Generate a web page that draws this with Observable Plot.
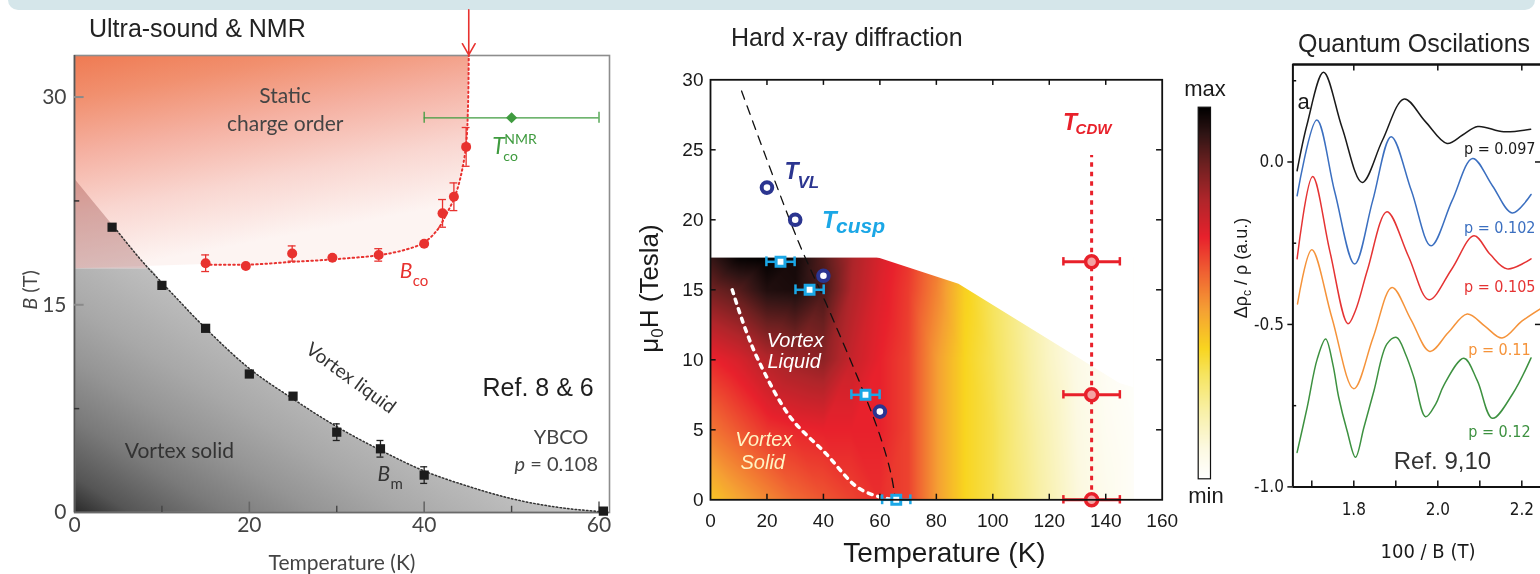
<!DOCTYPE html>
<html><head><meta charset="utf-8">
<script src="https://cdn.jsdelivr.net/npm/d3@7"></script>
<script src="https://cdn.jsdelivr.net/npm/@observablehq/plot@0.6"></script>
<style>
html,body{margin:0;padding:0;background:#fff;}
#root{position:relative;width:1540px;height:574px;overflow:hidden;background:#fff;}
#root > svg, #root > div {position:absolute;}
</style></head><body><div id="root"></div>
<script>
const F_ARIAL = '"Liberation Sans", Arial, Helvetica, sans-serif';
const F_P1 = 'Lato, "Open Sans", "Liberation Sans", sans-serif';
const F_NARROW = '"Liberation Sans Narrow", "Arial Narrow", "DejaVu Sans Condensed", Roboto, sans-serif';

// ================= Panel 1 data (Ultra-sound & NMR) =================
const bmT   = [4.3, 10, 15, 20, 25, 30, 35, 40, 60.5];
const bmB   = [20.6, 16.4, 13.3, 10.0, 8.4, 5.8, 4.6, 2.7, 0.1];
const bmErr = [0, 0, 0, 0, 0, 0.6, 0.6, 0.6, 0];
const bmLineT = [0, 4.3, 8.5, 10, 15, 20, 25, 30, 35, 40, 45, 50, 55, 60.5];
const bmLineB = [24.1, 20.8, 17.6, 16.6, 13.3, 10.4, 8.2, 6.2, 4.5, 3.0, 1.9, 1.0, 0.4, 0.05];
const grayTop = 17.6;
const bcoT   = [15, 19.6, 24.9, 29.5, 34.8, 40, 42.1, 43.4, 44.8];
const bcoB   = [18.0, 17.8, 18.7, 18.4, 18.6, 19.4, 21.6, 22.8, 26.4];
const bcoErr = [0.6, 0, 0.55, 0, 0.45, 0, 1.0, 1.0, 1.4];
const bcoLineT = [15, 20, 25, 30, 35, 38, 40, 41.5, 42.5, 43.5, 44.3, 44.8, 45.0, 45.1];
const bcoLineB = [17.9, 17.9, 18.1, 18.3, 18.6, 19.0, 19.5, 20.4, 21.5, 22.8, 24.6, 26.6, 29.0, 33.0];
const nmrT = 50, nmrB = 28.5, nmrErr = 10;
const arrowT = 45.1;
const p1XTicks = [0, 20, 40, 60];
const p1YTicks = [0, 15, 30];
const p1XMajor = [20, 40, 60], p1XMinor = [10, 30, 50];
const p1YMajor = [15, 30], p1YMinor = [7.5, 22.5];

// ================= Panel 2 data (Hard x-ray diffraction) =================
const hmT = [0, 10, 20, 30, 40, 50, 60, 70, 80, 90, 100, 110, 120, 130, 140, 150];
const hmB = [0, 5, 10, 15, 17.3];
const hmRowB0  = [0.38, 0.44, 0.49, 0.54, 0.57, 0.60, 0.63, 0.60, 0.46, 0.35, 0.30, 0.23, 0.16, 0.09, 0.05, 0.02];
const hmRowB5  = [0.52, 0.57, 0.62, 0.64, 0.65, 0.65, 0.65, 0.60, 0.46, 0.35, 0.30, 0.22, 0.15, 0.08, 0.04, 0.02];
const hmRowB10 = [0.64, 0.68, 0.74, 0.78, 0.80, 0.71, 0.65, 0.60, 0.46, 0.35, 0.29, 0.21, 0.13, 0.07, 0.03, 0.01];
const hmRowB15 = [0.84, 0.88, 0.95, 0.96, 0.90, 0.75, 0.67, 0.61, 0.50, 0.36, 0.28, 0.20, 0.12, 0.06, 0.03, 0.01];
const hmRowB17 = [0.92, 0.99, 1.00, 0.97, 0.88, 0.76, 0.68, 0.62, 0.52, 0.38, 0.28, 0.20, 0.12, 0.06, 0.03, 0.01];
const hmEdgeT = [0, 59, 88, 145, 150];
const hmEdgeB = [17.3, 17.3, 15.4, 8.3, 8.0];
const cmapT = [0, 0.08, 0.18, 0.28, 0.35, 0.45, 0.55, 0.65, 0.75, 0.85, 0.93, 1];
const cmapC = ["#ffffff","#fcf9e2","#f8f0a8","#f6e460","#f8d520","#f5a233","#f06432","#e8212c","#b0252a","#6b2020","#2e1414","#000000"];
const vlT = [20, 30, 40, 60];
const vlB = [22.3, 20.0, 16.0, 6.3];
const cuspT = [24.8, 35.1, 54.9, 65.8];
const cuspB = [17.0, 15.0, 7.5, 0];
const cuspErr = [5, 5, 5, 5];
const cdwT = [135, 135, 135];
const cdwB = [17.0, 7.5, 0];
const cdwErr = [10, 10, 10];
const cdwLineTop = 24.6;
const vlFitT = [11, 31, 41, 53, 60, 64, 65.5];
const vlFitB = [29.2, 18.5, 14.0, 8.3, 4.6, 1.8, 0];
const vsT = [7.7, 12, 17, 28.3, 40.9, 52, 60, 65.8];
const vsB = [15.0, 12.4, 9.95, 5.9, 3.3, 0.9, 0.2, 0];
const p2XTicks = [0, 20, 40, 60, 80, 100, 120, 140, 160];
const p2YTicks = [0, 5, 10, 15, 20, 25, 30];

// ================= Panel 3 data (Quantum Oscillations) =================
const qo097X = [1.665, 1.689, 1.728, 1.772, 1.820, 1.868, 1.920, 1.970, 2.022, 2.059, 2.095, 2.157, 2.221];
const qo097Y = [-0.027, 0.117, 0.276, 0.106, -0.063, 0.066, 0.194, 0.125, 0.057, 0.083, 0.109, 0.093, 0.101];
const qo102X = [1.665, 1.712, 1.755, 1.802, 1.845, 1.889, 1.937, 1.984, 2.034, 2.083, 2.130, 2.177, 2.222];
const qo102Y = [-0.104, 0.129, -0.094, -0.314, -0.119, 0.078, -0.088, -0.258, -0.119, 0.011, -0.073, -0.157, -0.100];
const qo105X = [1.665, 1.702, 1.743, 1.786, 1.804, 1.833, 1.879, 1.930, 1.979, 2.033, 2.086, 2.125, 2.165, 2.222];
const qo105Y = [-0.298, -0.045, -0.275, -0.498, -0.457, -0.330, -0.153, -0.290, -0.424, -0.330, -0.227, -0.285, -0.329, -0.298];
const qo110X = [1.666, 1.700, 1.748, 1.800, 1.846, 1.891, 1.936, 1.981, 2.025, 2.070, 2.112, 2.153, 2.200, 2.244];
const qo110Y = [-0.437, -0.270, -0.480, -0.698, -0.540, -0.386, -0.485, -0.583, -0.525, -0.468, -0.505, -0.542, -0.490, -0.452];
const qo120X = [1.665, 1.689, 1.713, 1.733, 1.750, 1.764, 1.784, 1.804, 1.824, 1.848, 1.879, 1.902, 1.923, 1.943, 1.971, 1.995, 2.014, 2.062, 2.094, 2.130, 2.178, 2.222];
const qo120Y = [-0.894, -0.755, -0.606, -0.545, -0.622, -0.724, -0.827, -0.909, -0.817, -0.704, -0.560, -0.540, -0.591, -0.663, -0.784, -0.745, -0.688, -0.604, -0.673, -0.789, -0.714, -0.603];
const qoNames = ["p = 0.097", "p = 0.102", "p = 0.105", "p = 0.11", "p = 0.12"];
const qoLabelX = [2.2326, 2.2326, 2.2326, 2.221, 2.221];
const qoLabelY = [0.026, -0.220, -0.399, -0.593, -0.845];
const qoColors = ["#1a1a1a", "#3b6fc0", "#e53333", "#f5933a", "#3d9140"];
const qoXTicks = [1.8, 2.0, 2.2], qoXMinor = [1.7, 1.9, 2.1];
const qoYTicks = [0, -0.5, -1.0], qoYMinor = [0.25, -0.25, -0.75];
const qoXDomain = [1.655, 2.2445], qoYDomain = [-1.0, 0.3];

// ================= helpers =================
const root = document.getElementById("root");
const bl = fs => -0.32 * fs;   // shift so that y is the baseline
const RED = "#e8322f", RED2 = "#e8202a", GREEN = "#3f9b3f", BLUE = "#2b3590", CYAN = "#1ba7e6";
function put(el, left, top) { el.style.left = left + "px"; el.style.top = top + "px"; root.appendChild(el); return el; }

// banner
const banner = document.createElement("div");
Object.assign(banner.style, {width: "1527px", height: "10px", background: "#d5e6ea", borderRadius: "0 0 10px 10px"});
put(banner, 8, 0);

// ================= Panel 1 =================
const bm = bmT.map((T, i) => ({T, B: bmB[i], e: bmErr[i]}));
const bmLine = bmLineT.map((T, i) => ({T, B: bmLineB[i]}));
const grayPts = bmLine.map(d => ({T: d.T, B: Math.min(d.B, grayTop)}));
const triPts = bmLine.filter(d => d.T <= 8.5);
const bco = bcoT.map((T, i) => ({T, B: bcoB[i], e: bcoErr[i]}));
const bcoLine = bcoLineT.map((T, i) => ({T, B: bcoLineB[i]}));
const pinkPts = [{T: 0, B: grayTop}].concat(bcoLine);
const capsOf = arr => arr.filter(d => d.e > 0).flatMap(d => [{T: d.T, B: d.B - d.e}, {T: d.T, B: d.B + d.e}]);

const p1 = Plot.plot({
  width: 620, height: 574, marginLeft: 74, marginRight: 11, marginTop: 55, marginBottom: 62,
  x: {domain: [0, 61.2]}, y: {domain: [0, 33]},
  style: {background: "transparent", overflow: "visible", fontFamily: F_P1, fontSize: "21px", color: "#444"},
  marks: [
    Plot.areaY(grayPts, {x: "T", y: "B", fill: "url(#p1gray)", curve: "monotone-x"}),
    Plot.areaY(triPts, {x: "T", y1: grayTop, y2: "B", fill: "#dcc4c4", curve: "monotone-x"}),
    Plot.areaY(pinkPts, {x: "T", y1: "B", y2: 33, fill: "url(#p1pink)", mixBlendMode: "multiply"}),
    Plot.frame({stroke: "#8d8d8d", strokeWidth: 1.6}),
    Plot.ruleX([0], {stroke: "#555", strokeWidth: 1.6}),
    Plot.ruleY([0], {stroke: "#6a6a6a", strokeWidth: 1.6}),
    Plot.ruleY(p1YMajor, {x1: 0, x2: 1.1, stroke: "#8a8a8a", strokeWidth: 2}),
    Plot.ruleY(p1YMinor, {x1: 0, x2: 0.6, stroke: "#333", strokeWidth: 1.5}),
    Plot.ruleX(p1XMajor, {y1: 0, y2: 0.75, stroke: "#666", strokeWidth: 1.6}),
    Plot.ruleX(p1XMinor, {y1: 0, y2: 0.45, stroke: "#444", strokeWidth: 1.4}),
    Plot.line(bmLine.filter(d => d.T >= 4.3), {x: "T", y: "B", stroke: "#333", strokeWidth: 1.5, strokeDasharray: "1.4,2.4", curve: "monotone-x"}),
    Plot.line(bcoLine, {x: "T", y: "B", stroke: RED, strokeWidth: 2, strokeDasharray: "1.6,3", curve: "catmull-rom"}),
    Plot.ruleX(bm.filter(d => d.e > 0), {x: "T", y1: d => d.B - d.e, y2: d => d.B + d.e, stroke: "#222", strokeWidth: 1.3}),
    Plot.ruleY(capsOf(bm), {y: "B", x1: d => d.T - 0.4, x2: d => d.T + 0.4, stroke: "#222", strokeWidth: 1.3}),
    Plot.dot(bm, {x: "T", y: "B", symbol: "square", r: 5.2, fill: "#1c1c1c"}),
    Plot.ruleX(bco.filter(d => d.e > 0), {x: "T", y1: d => d.B - d.e, y2: d => d.B + d.e, stroke: RED, strokeWidth: 1.3}),
    Plot.ruleY(capsOf(bco), {y: "B", x1: d => d.T - 0.45, x2: d => d.T + 0.45, stroke: RED, strokeWidth: 1.3}),
    Plot.dot(bco, {x: "T", y: "B", r: 5, fill: RED}),
    Plot.ruleY([nmrB], {x1: nmrT - nmrErr, x2: nmrT + nmrErr, stroke: GREEN, strokeWidth: 1.3}),
    Plot.ruleX([nmrT - nmrErr, nmrT + nmrErr], {y1: nmrB - 0.4, y2: nmrB + 0.4, stroke: GREEN, strokeWidth: 1.3}),
    Plot.dot([nmrT], {x: d => d, y: nmrB, symbol: "diamond2", r: 5, fill: GREEN}),
    Plot.arrow([arrowT], {x1: d => d, x2: d => d, y1: 36.3, y2: 33.05, stroke: RED, strokeWidth: 1.6, headLength: 12}),
    // annotations
    Plot.text([{t: "Static", T: 24.1, B: 29.55}, {t: "charge order", T: 24.1, B: 27.58}], {x: "T", y: "B", text: "t", fontFamily: F_P1, fontSize: 21, fill: "#444", dy: bl(21)}),
    Plot.text([{t: "Vortex solid", T: 12.0, B: 3.97}], {x: "T", y: "B", text: "t", fontFamily: F_P1, fontSize: 21, fill: "#333", dy: bl(21)}),
    Plot.text([{t: "Vortex liquid", T: 31.6, B: 9.7}], {x: "T", y: "B", text: "t", fontFamily: F_P1, fontSize: 19, fill: "#333", rotate: 36}),
    Plot.text([{t: "YBCO", T: 55.65, B: 4.96}], {x: "T", y: "B", text: "t", fontFamily: F_P1, fontSize: 20, fill: "#444", dy: bl(20)}),
    Plot.text([{t: "p", T: 51.9, B: 3.0}], {x: "T", y: "B", text: "t", fontFamily: F_P1, fontSize: 20, fontStyle: "italic", fill: "#444", textAnchor: "end", dx: -3, dy: bl(20)}),
    Plot.text([{t: "= 0.108", T: 51.9, B: 3.0}], {x: "T", y: "B", text: "t", fontFamily: F_P1, fontSize: 20, fill: "#444", textAnchor: "start", dx: 2, dy: bl(20)}),
    Plot.text([{t: "Ref. 8 & 6", T: 46.67, B: 8.43}], {x: "T", y: "B", text: "t", fontFamily: F_ARIAL, fontSize: 25, fill: "#1e1e1e", textAnchor: "start", dy: bl(25)}),
    Plot.text([{t: "B", T: 34.66, B: 2.29}], {x: "T", y: "B", text: "t", fontFamily: F_P1, fontSize: 21, fontStyle: "italic", fill: "#333", textAnchor: "start", dy: bl(21)}),
    Plot.text([{t: "m", T: 34.66, B: 2.29}], {x: "T", y: "B", text: "t", fontFamily: F_P1, fontSize: 15, fill: "#333", textAnchor: "start", dx: 13, dy: bl(15) + 8}),
    Plot.text([{t: "B", T: 37.2, B: 16.96}], {x: "T", y: "B", text: "t", fontFamily: F_P1, fontSize: 21, fontStyle: "italic", fill: RED, textAnchor: "start", dy: bl(21)}),
    Plot.text([{t: "co", T: 37.2, B: 16.96}], {x: "T", y: "B", text: "t", fontFamily: F_P1, fontSize: 15, fill: RED, textAnchor: "start", dx: 13, dy: bl(15) + 8}),
    Plot.text([{t: "T", T: 47.8, B: 25.92}], {x: "T", y: "B", text: "t", fontFamily: F_P1, fontSize: 23, fontStyle: "italic", fill: GREEN, textAnchor: "start", dy: bl(23)}),
    Plot.text([{t: "NMR", T: 47.8, B: 25.92}], {x: "T", y: "B", text: "t", fontFamily: F_P1, fontSize: 14, fill: GREEN, textAnchor: "start", dx: 12, dy: bl(14) - 10}),
    Plot.text([{t: "co", T: 47.8, B: 25.92}], {x: "T", y: "B", text: "t", fontFamily: F_P1, fontSize: 14, fill: GREEN, textAnchor: "start", dx: 11, dy: bl(14) + 7}),
    Plot.axisX(p1XTicks, {tickSize: 0, tickPadding: 5, label: null, fontSize: 21}),
    Plot.axisY(p1YTicks, {tickSize: 0, tickPadding: 8, label: null, fontSize: 21})
  ]
});
put(p1, 0, 0);
{
  const sx = p1.scale("x"), sy = p1.scale("y");
  const defs = d3.select(p1).insert("defs", ":first-child");
  const x0 = sx.apply(0), y0 = sy.apply(0);
  const g = defs.append("linearGradient").attr("id", "p1gray").attr("gradientUnits", "userSpaceOnUse")
    .attr("x1", x0).attr("y1", y0).attr("x2", x0 + 0.529 * 330).attr("y2", y0 - 0.849 * 330);
  [[0, "#2a2a2a"], [0.09, "#555555"], [0.24, "#7a7a7a"], [0.39, "#959595"], [0.53, "#a8a8a8"], [0.76, "#c0c0c0"], [1, "#d2d2d2"]]
    .forEach(([o, c]) => g.append("stop").attr("offset", o).attr("stop-color", c));
  const gp = defs.append("linearGradient").attr("id", "p1pink").attr("gradientUnits", "userSpaceOnUse")
    .attr("x1", x0).attr("y1", sy.apply(33)).attr("x2", x0 + 40).attr("y2", sy.apply(grayTop));
  [[0, "#ef7a52"], [0.2, "#f1906f"], [0.45, "#f5b1a2"], [0.72, "#f9d6d0"], [1, "#fdf4f2"]]
    .forEach(([o, c]) => gp.append("stop").attr("offset", o).attr("stop-color", c));
}

// ================= Panel 2 =================
const hmRows = [hmRowB0, hmRowB5, hmRowB10, hmRowB15, hmRowB17];
const hmPts = hmB.flatMap((b, i) => hmT.map((t, j) => ({T: t, B: b, v: hmRows[i][j]})));
const hmEdge = hmEdgeT.map((T, i) => ({T, B: hmEdgeB[i]}));
const vl = vlT.map((T, i) => ({T, B: vlB[i]}));
const cusp = cuspT.map((T, i) => ({T, B: cuspB[i], e: cuspErr[i]}));
const cdw = cdwT.map((T, i) => ({T, B: cdwB[i], e: cdwErr[i]}));
const hCaps = arr => arr.flatMap(d => [{T: d.T - d.e, B: d.B}, {T: d.T + d.e, B: d.B}]);
const vlFit = vlFitT.map((T, i) => ({T, B: vlFitB[i]}));
const vs = vsT.map((T, i) => ({T, B: vsB[i]}));
const colorOpt = {type: "linear", domain: cmapT, range: cmapC, interpolate: "rgb"};
const p2InX = p2XTicks.slice(1, -1), p2InY = p2YTicks.slice(1, -1);

const p2 = Plot.plot({
  width: 620, height: 574, marginLeft: 90, marginRight: 78.3, marginTop: 79.3, marginBottom: 74.7,
  x: {domain: [0, 160]}, y: {domain: [0, 30]}, color: colorOpt,
  style: {background: "transparent", overflow: "visible", fontFamily: F_ARIAL, fontSize: "19px", color: "#1a1a1a"},
  marks: [
    Plot.raster(hmPts, {x: "T", y: "B", fill: "v", x1: 0, x2: 150, y1: 0, y2: 17.3, interpolate: "barycentric", imageRendering: "auto"}),
    Plot.areaY(hmEdge, {x: "T", y1: "B", y2: 30, fill: "white"}),
    Plot.ruleX([cdwT[0]], {y1: 0, y2: cdwLineTop, stroke: RED2, strokeWidth: 3, strokeDasharray: "4.5,5"}),
    Plot.line(vlFit, {x: "T", y: "B", stroke: "#111", strokeWidth: 1.3, strokeDasharray: "9,7", curve: "catmull-rom"}),
    Plot.line(vs, {x: "T", y: "B", stroke: "white", strokeWidth: 3.5, strokeDasharray: "4,6", curve: "catmull-rom"}),
    Plot.ruleY(cusp, {y: "B", x1: d => d.T - d.e, x2: d => d.T + d.e, stroke: CYAN, strokeWidth: 2.5}),
    Plot.ruleX(hCaps(cusp), {x: "T", y1: d => d.B - 0.35, y2: d => d.B + 0.35, stroke: CYAN, strokeWidth: 2.5}),
    Plot.dot(cusp, {x: "T", y: "B", symbol: "square", r: 5, fill: "white", stroke: CYAN, strokeWidth: 3}),
    Plot.ruleY(cdw, {y: "B", x1: d => d.T - d.e, x2: d => d.T + d.e, stroke: RED2, strokeWidth: 3}),
    Plot.ruleX(hCaps(cdw), {x: "T", y1: d => d.B - 0.3, y2: d => d.B + 0.3, stroke: RED2, strokeWidth: 2.5}),
    Plot.dot(cdw, {x: "T", y: "B", r: 6, fill: "#f4a3a3", stroke: RED2, strokeWidth: 3.5}),
    Plot.dot(vl, {x: "T", y: "B", r: 5.3, fill: "white", stroke: BLUE, strokeWidth: 4}),
    Plot.frame({stroke: "#111", strokeWidth: 1.8}),
    Plot.ruleX(p2InX, {y1: 0, y2: 0.4, stroke: "#111", strokeWidth: 1.5}),
    Plot.ruleX(p2InX, {y1: 29.6, y2: 30, stroke: "#111", strokeWidth: 1.5}),
    Plot.ruleY(p2InY, {x1: 0, x2: 2, stroke: "#111", strokeWidth: 1.5}),
    Plot.ruleY(p2InY, {x1: 158, x2: 160, stroke: "#111", strokeWidth: 1.5}),
    Plot.axisX(p2XTicks, {tickSize: 0, tickPadding: 14, label: null, fontSize: 19}),
    Plot.axisY(p2YTicks, {tickSize: 0, tickPadding: 7, label: null, fontSize: 19}),
    // annotations
    Plot.text([{t: "T", T: 26.2, B: 22.95}], {x: "T", y: "B", text: "t", fontFamily: F_ARIAL, fontSize: 23, fontStyle: "italic", fontWeight: "bold", fill: BLUE, textAnchor: "start", dy: bl(23)}),
    Plot.text([{t: "VL", T: 26.2, B: 22.95}], {x: "T", y: "B", text: "t", fontFamily: F_ARIAL, fontSize: 17, fontStyle: "italic", fontWeight: "bold", fill: BLUE, textAnchor: "start", dx: 13, dy: bl(17) + 9}),
    Plot.text([{t: "T", T: 39.5, B: 19.38}], {x: "T", y: "B", text: "t", fontFamily: F_ARIAL, fontSize: 24, fontStyle: "italic", fontWeight: "bold", fill: CYAN, textAnchor: "start", dy: bl(24)}),
    Plot.text([{t: "cusp", T: 39.5, B: 19.38}], {x: "T", y: "B", text: "t", fontFamily: F_ARIAL, fontSize: 21, fontStyle: "italic", fontWeight: "bold", fill: CYAN, textAnchor: "start", dx: 14, dy: bl(21) + 5}),
    Plot.text([{t: "T", T: 124.9, B: 26.38}], {x: "T", y: "B", text: "t", fontFamily: F_ARIAL, fontSize: 23, fontStyle: "italic", fontWeight: "bold", fill: RED2, textAnchor: "start", dy: bl(23)}),
    Plot.text([{t: "CDW", T: 124.9, B: 26.38}], {x: "T", y: "B", text: "t", fontFamily: F_ARIAL, fontSize: 15, fontStyle: "italic", fontWeight: "bold", fill: RED2, textAnchor: "start", dx: 12.5, dy: bl(15) + 3.5}),
    Plot.text([{t: "Vortex", T: 30, B: 10.9}, {t: "Liquid", T: 29.6, B: 9.38}], {x: "T", y: "B", text: "t", fontFamily: F_ARIAL, fontSize: 20, fontStyle: "italic", fill: "white", dy: bl(20)}),
    Plot.text([{t: "Vortex", T: 18.9, B: 3.83}, {t: "Solid", T: 18.5, B: 2.21}], {x: "T", y: "B", text: "t", fontFamily: F_ARIAL, fontSize: 20, fontStyle: "italic", fill: "#fff4c4", dy: bl(20)})
  ]
});
put(p2, 620, 0);

// colour bar
const cb = Plot.plot({
  width: 30, height: 390, marginLeft: 7.7, marginRight: 10, marginTop: 6.7, marginBottom: 11.7,
  x: {domain: [0, 1], axis: null}, y: {domain: [0, 1], axis: null}, color: colorOpt,
  style: {background: "transparent", overflow: "visible"},
  marks: [
    Plot.raster({fill: (x, y) => y, x1: 0, x2: 1, y1: 0, y2: 1, imageRendering: "auto"}),
    Plot.frame({stroke: "#111", strokeWidth: 1.2})
  ]
});
put(cb, 1190, 100);

// ================= Panel 3 =================
const qoSeries = [[qo097X, qo097Y], [qo102X, qo102Y], [qo105X, qo105Y], [qo110X, qo110Y], [qo120X, qo120Y]]
  .map(([xs, ys]) => xs.map((x, i) => ({x, y: ys[i]})));
const yFmt = d => d.toFixed(1);
const p3 = Plot.plot({
  width: 300, height: 574, marginLeft: 52.4, marginRight: 0, marginTop: 64, marginBottom: 87.6,
  x: {domain: qoXDomain}, y: {domain: qoYDomain},
  style: {background: "transparent", overflow: "visible", fontFamily: F_NARROW, fontSize: "17px", color: "#1a1a1a"},
  marks: [
    ...qoSeries.map((s, i) => Plot.line(s, {x: "x", y: "y", stroke: qoColors[i], strokeWidth: 1.5, curve: "catmull-rom"})),
    Plot.ruleY([qoYDomain[1]], {stroke: "#111", strokeWidth: 2.5}),
    Plot.ruleX([qoXDomain[0]], {stroke: "#111", strokeWidth: 2}),
    Plot.ruleY([qoYDomain[0]], {stroke: "#111", strokeWidth: 2}),
    Plot.ruleX(qoXTicks.concat(qoXMinor), {y1: -1.0, y2: -0.982, stroke: "#111", strokeWidth: 1.5}),
    Plot.ruleX(qoXTicks, {y1: 0.3, y2: 0.28, stroke: "#111", strokeWidth: 1.5}),
    Plot.ruleY(qoYTicks, {x1: qoXDomain[0] - 0.012, x2: qoXDomain[0], stroke: "#111", strokeWidth: 1.5}),
    Plot.ruleY(qoYMinor, {x1: qoXDomain[0], x2: qoXDomain[0] + 0.009, stroke: "#111", strokeWidth: 1.5}),
    Plot.ruleY([0, -0.5], {x1: qoXDomain[1] - 0.012, x2: qoXDomain[1], stroke: "#111", strokeWidth: 1.5}),
    Plot.axisX(qoXTicks, {tickFormat: yFmt, tickSize: 0, tickPadding: 16, label: null, fontSize: 17}),
    Plot.axisY(qoYTicks, {tickFormat: yFmt, tickSize: 0, tickPadding: 9, label: null, fontSize: 17}),
    ...qoNames.map((n, i) => Plot.text([{t: n, x: qoLabelX[i], y: qoLabelY[i]}], {x: "x", y: "y", text: "t", fill: qoColors[i], fontFamily: F_NARROW, fontSize: 16, textAnchor: "end", dy: bl(16)})),
    Plot.text([{t: "a", x: 1.666, y: 0.164}], {x: "x", y: "y", text: "t", fontFamily: F_ARIAL, fontSize: 22, fill: "#1a1a1a", textAnchor: "start", dy: bl(22)}),
    Plot.text([{t: "Ref. 9,10", x: 2.011, y: -0.944}], {x: "x", y: "y", text: "t", fontFamily: F_ARIAL, fontSize: 24, fill: "#333", dy: bl(24)})
  ]
});
put(p3, 1240, 0);

// ================= text overlay (titles, axis titles) =================
const ov = d3.select(root).append("svg").attr("width", 1540).attr("height", 574)
  .style("left", "0px").style("top", "0px").style("pointer-events", "none");
function tx(x, y, o) {
  const t = ov.append("text").attr("x", x).attr("y", y)
    .attr("font-family", o.family || F_ARIAL).attr("font-size", o.size)
    .attr("fill", o.fill || "#222").attr("text-anchor", o.anchor || "start");
  if (o.rotate) t.attr("transform", `rotate(${o.rotate},${x},${y})`);
  return t;
}
tx(89, 37, {size: 25}).text("Ultra-sound & NMR");
tx(731, 46, {size: 25}).text("Hard x-ray diffraction");
tx(1298, 52, {size: 25}).text("Quantum Oscilations");
tx(342, 570, {size: 21, family: F_P1, anchor: "middle", fill: "#444"}).text("Temperature (K)");
{
  const t = tx(37, 290, {size: 20, family: F_P1, anchor: "middle", fill: "#444", rotate: -90});
  t.append("tspan").attr("font-style", "italic").text("B");
  t.append("tspan").text(" (T)");
}
tx(944.5, 561.7, {size: 28, anchor: "middle", fill: "#1a1a1a"}).text("Temperature (K)");
{
  const t = tx(657.5, 288.5, {size: 26, anchor: "middle", fill: "#1a1a1a", rotate: -90});
  t.append("tspan").text("\u03bc");
  t.append("tspan").attr("font-size", 17).attr("dy", 5).text("0");
  t.append("tspan").attr("dy", -5).text("H (Tesla)");
}
tx(1205, 96, {size: 22, anchor: "middle", fill: "#1a1a1a"}).text("max");
tx(1206, 503, {size: 22, anchor: "middle", fill: "#1a1a1a"}).text("min");
tx(1428, 558, {size: 20, family: F_NARROW, anchor: "middle", fill: "#1a1a1a"}).text("100 / B (T)");
{
  const t = tx(1247, 268, {size: 18, anchor: "middle", fill: "#1a1a1a", rotate: -90});
  t.append("tspan").text("\u0394\u03c1");
  t.append("tspan").attr("font-size", 12).attr("dy", 4).text("c");
  t.append("tspan").attr("dy", -4).text(" / \u03c1 (a.u.)");
}
</script></body></html>
